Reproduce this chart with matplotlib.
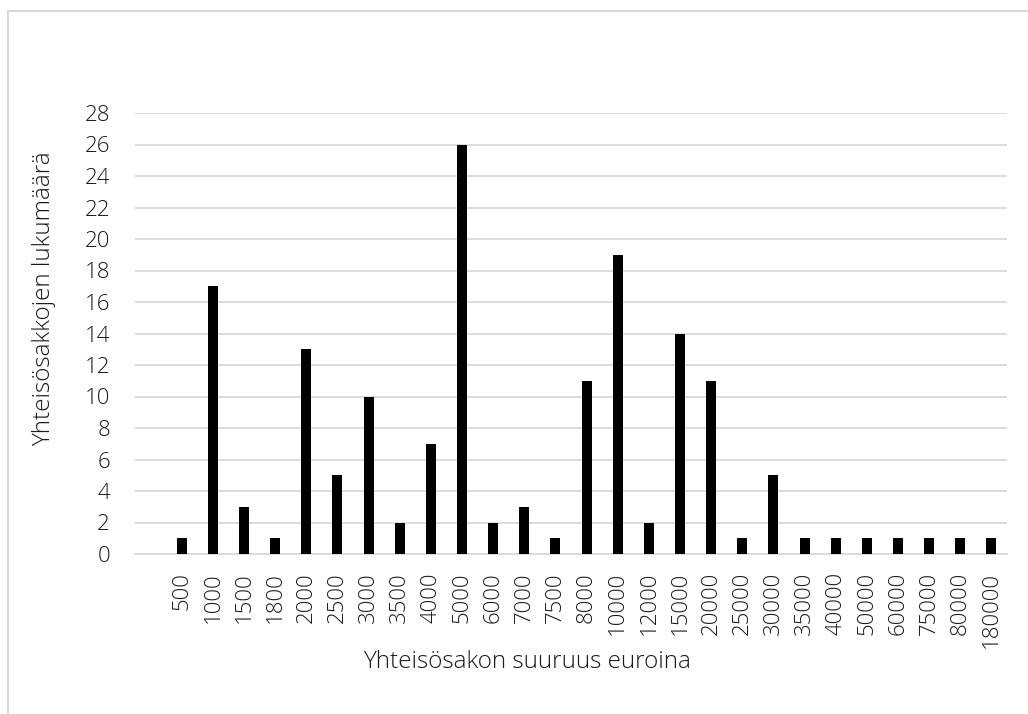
import matplotlib
matplotlib.use("Agg")
import matplotlib.pyplot as plt
from matplotlib.patches import Rectangle

plt.rcParams["font.family"] = ["Open Sans", "DejaVu Sans"]
plt.rcParams["font.weight"] = "light"

# first slot of the category axis is empty in the source chart
categories = ["", "500", "1000", "1500", "1800", "2000", "2500", "3000", "3500", "4000",
              "5000", "6000", "7000", "7500", "8000", "10000", "12000", "15000",
              "20000", "25000", "30000", "35000", "40000", "50000", "60000",
              "75000", "80000", "180000"]
counts = [0, 1, 17, 3, 1, 13, 5, 10, 2, 7, 26, 2, 3, 1, 11, 19, 2, 14, 11, 1, 5,
          1, 1, 1, 1, 1, 1, 1]

W, H = 1028, 714
fig = plt.figure(figsize=(W / 100, H / 100), dpi=100)
# chart-area border (only top and left edge visible, image is cropped)
fig.patches.append(Rectangle((8 / W, -0.1), 1.2, 1.1 - 11 / H, transform=fig.transFigure,
                             fill=False, edgecolor="#d9d9d9", lw=1.5))
ax = fig.add_axes([135 / W, 1 - 554 / H, (1007 - 135) / W, (554 - 113) / H])

x = list(range(len(categories)))
ax.bar(x, counts, width=0.32, color="black", zorder=3)
ax.set_xlim(-0.5, len(categories) - 0.5)
ax.set_ylim(0, 28)
ax.set_yticks(range(0, 29, 2))
ax.set_xticks(x)
ax.set_xticklabels(categories, rotation=90)
ax.yaxis.grid(True, color="#d9d9d9", lw=1.3, zorder=0)
for s in ("top", "right", "left"):
    ax.spines[s].set_visible(False)
ax.spines["bottom"].set_color("#d9d9d9")
ax.spines["bottom"].set_linewidth(1.3)
ax.tick_params(axis="both", length=0, labelsize=16, colors="#1a1a1a")
ax.tick_params(axis="y", pad=18)
ax.tick_params(axis="x", pad=13)

fig.text(44 / W, 1 - 299 / H, "Yhteisösakkojen lukumäärä", rotation=90,
         ha="center", va="center", fontsize=17.5, color="#1a1a1a")
fig.text(527 / W, 1 - 662 / H, "Yhteisösakon suuruus euroina",
         ha="center", va="center", fontsize=17.5, color="#1a1a1a")

fig.savefig("out.png", dpi=100)
